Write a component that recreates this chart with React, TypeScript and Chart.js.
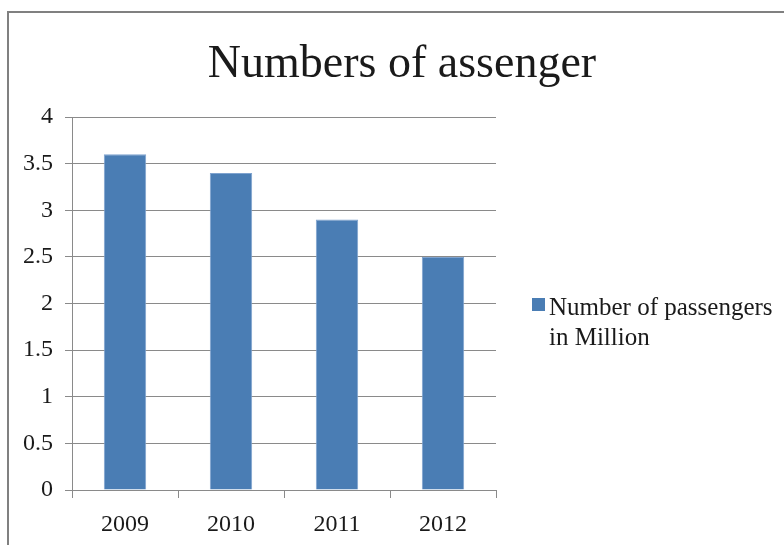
import React, { useEffect, useRef } from "react";
import { Chart, registerables } from "chart.js";

Chart.register(...registerables);

const categories = ["2009", "2010", "2011", "2012"];
const passengers = [3.6, 3.4, 2.9, 2.5];
const seriesLabel = ["Number of passengers", "in Million"];
const chartTitle = "Numbers of assenger";

const BAR = "#4a7db4";
const GRID = "#8a8a8a";
const FONT = "'Liberation Serif', 'Times New Roman', serif";

const decorPlugin = {
  id: "decor",
  beforeDraw(chart: any) {
    const ctx = chart.ctx;
    ctx.save();
    ctx.fillStyle = "#ffffff";
    ctx.fillRect(0, 0, chart.width, chart.height);
    ctx.strokeStyle = "#808080";
    ctx.lineWidth = 2;
    ctx.beginPath();
    ctx.moveTo(8, chart.height + 5);
    ctx.lineTo(8, 12);
    ctx.lineTo(chart.width + 5, 12);
    ctx.stroke();
    ctx.restore();
  },
  afterDraw(chart: any) {
    const ctx = chart.ctx;
    ctx.save();
    ctx.fillStyle = "#1a1a1a";
    ctx.font = `46px ${FONT}`;
    ctx.textAlign = "center";
    ctx.textBaseline = "alphabetic";
    ctx.fillText(chartTitle, 402, 77);

    // legend
    const ds = chart.data.datasets[0];
    ctx.fillStyle = ds.backgroundColor;
    ctx.fillRect(532, 298, 13, 13);
    ctx.fillStyle = "#1a1a1a";
    ctx.font = `25px ${FONT}`;
    ctx.textAlign = "left";
    const lines = Array.isArray(ds.label) ? ds.label : [ds.label];
    lines.forEach((l: string, i: number) => ctx.fillText(l, 549, 315 + i * 30));
    ctx.restore();
  },
};

export default function App() {
  const ref = useRef<HTMLCanvasElement>(null);
  useEffect(() => {
    if (!ref.current) return;
    const chart = new Chart(ref.current, {
      type: "bar",
      data: {
        labels: categories,
        datasets: [
          {
            label: seriesLabel as any,
            data: passengers,
            backgroundColor: BAR,
            borderColor: "#7fa3cf",
            borderWidth: 1,
            categoryPercentage: 1,
            barPercentage: 0.4,
          },
        ],
      },
      options: {
        responsive: false,
        animation: false,
        layout: { padding: { left: 0, top: 117, right: 288, bottom: 0 } },
        plugins: {
          legend: { display: false },
          title: { display: false },
          tooltip: { enabled: false },
        },
        scales: {
          x: {
            afterFit: (s: any) => {
              s.height = 55;
            },
            grid: {
              offset: true,
              drawOnChartArea: false,
              drawTicks: true,
              tickLength: 8,
              color: GRID,
            },
            border: { display: true, color: GRID },
            ticks: {
              color: "#1a1a1a",
              font: { family: FONT, size: 24 },
              padding: 12,
            },
          },
          y: {
            min: 0,
            max: 4,
            afterFit: (s: any) => {
              s.width = 72;
            },
            grid: { color: GRID, tickLength: 7 },
            border: { display: true, color: GRID },
            ticks: {
              stepSize: 0.5,
              color: "#1a1a1a",
              font: { family: FONT, size: 24 },
              padding: 12,
              callback: (v: any) => String(Number(v)),
            },
          },
        },
      },
      plugins: [decorPlugin],
    });
    return () => chart.destroy();
  }, []);
  return (
    <div style={{ position: "fixed", left: 0, top: 0, width: 784, height: 545 }}>
      <canvas ref={ref} width={784} height={545} style={{ display: "block" }} />
    </div>
  );
}
